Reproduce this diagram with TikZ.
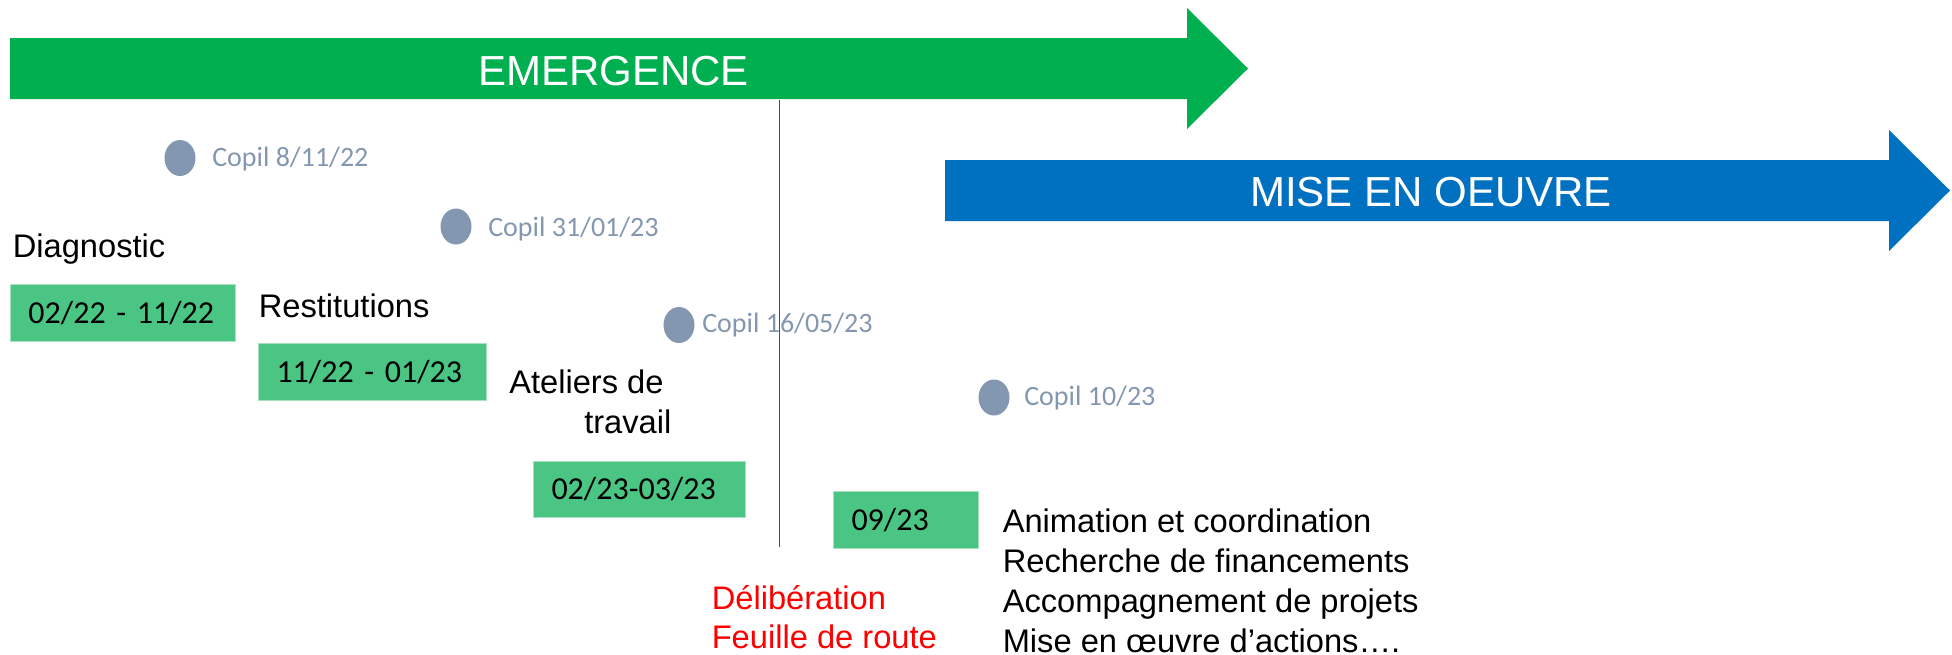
\documentclass[tikz,border=0pt]{standalone}
\usepackage{fontspec}
\setmainfont{Liberation Sans}
\newfontfamily\calib{Carlito}
\usetikzlibrary{shapes.geometric}
\definecolor{emgreen}{HTML}{00B050}
\definecolor{miseblue}{HTML}{0070C0}
\definecolor{boxgreen}{HTML}{4BC583}
\definecolor{boxedge}{HTML}{A8E2C0}
\definecolor{dotcol}{HTML}{8497B0}
\definecolor{redc}{HTML}{FF0000}
\tikzset{
  phasetext/.style={text=white, inner sep=0pt, anchor=base, font=\fontsize{31.5pt}{38pt}\selectfont},
  period/.style={fill=boxgreen, draw=boxedge, line width=0.75pt, inner xsep=13.5pt, inner ysep=0pt,
    minimum height=42.75pt, align=left, anchor=north west, text height=15pt, text depth=0pt,
    font=\calib\fontsize{24pt}{28pt}\selectfont},
  copildot/.style={shape=ellipse, fill=dotcol, inner sep=0pt, minimum width=23.25pt, minimum height=27pt},
  copil/.style={text=dotcol, inner sep=0pt, anchor=base west, font=\calib\fontsize{21pt}{25pt}\selectfont},
  label/.style={text=black, inner sep=0pt, anchor=base west, text depth=0pt, font=\fontsize{24.5pt}{30pt}\selectfont},
  redlabel/.style={label, text=redc},
}
\begin{document}
\begin{tikzpicture}[x=0.75pt, y=-0.75pt]
\useasboundingbox (0,0) rectangle (1952,654);
% phase arrows
\fill[emgreen] (10,38) -- (1187,38) -- (1187,8) -- (1248,68.5) -- (1187,129) -- (1187,99) -- (10,99) -- cycle;
\node[phasetext] (emergence) at (613.5,85) {EMERGENCE};
\fill[miseblue] (945,160) -- (1889,160) -- (1889,130) -- (1950,190.5) -- (1889,251) -- (1889,221) -- (945,221) -- cycle;
\node[phasetext] (mise) at (1431,206) {MISE EN OEUVRE};
% red milestone line
\coordinate (rtop) at (779,100);
\coordinate (rbot) at (779,547);
\draw[redc, line width=0.75pt] (rtop) -- (rbot);
% copil dots
\node[copildot] (d1) at (180,158) {};
\node[copil] (c1) at (212,166) {Copil 8/11/22};
\node[copildot] (d2) at (456,226.5) {};
\node[copil] (c2) at (488,236) {Copil 31/01/23};
\node[copildot] (d3) at (679,325) {};
\node[copil] (c3) at (702,332) {Copil 16/05/23};
\node[copildot] (d4) at (994,397.5) {};
\node[copil] (c4) at (1024,405) {Copil 10/23};
% period boxes
\node[period, minimum width=168.75pt, text width=141.75pt] (b1) at (10,284) {02/22 - 11/22};
\node[period, minimum width=171pt, text width=144pt] (b2) at (258,343) {11/22 - 01/23};
\node[period, minimum width=159pt, text width=132pt, minimum height=42pt] (b3) at (533,461) {02/23-03/23};
\node[period, minimum width=108.75pt, text width=81.75pt] (b4) at (833,491) {09/23};
% labels
\node[label] (diag) at (12.5,257) {Diagnostic};
\node[label] (rest) at (258.5,317) {Restitutions};
\node[label] (atel1) at (509,393) {Ateliers de};
\node[label] (atel2) at (584,433) {travail};
\node[redlabel] (delib) at (711.5,609) {Délibération};
\node[redlabel] (feuil) at (711.5,648) {Feuille de route};
\node[label] (act1) at (1002.5,532) {Animation et coordination};
\node[label] (act2) at (1002.5,572) {Recherche de financements};
\node[label] (act3) at (1002.5,612) {Accompagnement de projets};
\node[label] (act4) at (1002.5,652) {Mise en œuvre d’actions….};
\end{tikzpicture}
\end{document}
